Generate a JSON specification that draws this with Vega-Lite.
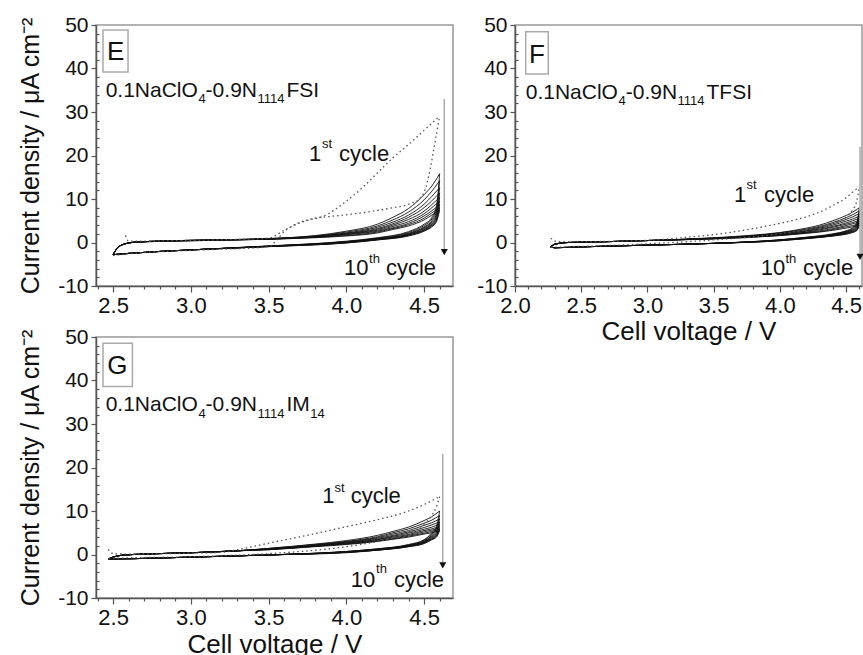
{
"$schema": "https://vega.github.io/schema/vega-lite/v6.json",
"padding": {"left": 17, "top": 13, "right": 0, "bottom": 0},
"config": {
  "font": "Liberation Sans",
  "view": {"stroke": "#999", "strokeWidth": 1.5},
  "axis": {"grid": false, "domainColor": "#555", "domainWidth": 1.5, "tickColor": "#555", "tickWidth": 1.2, "labelColor": "#111", "titleColor": "#111", "labelFont": "Liberation Sans", "titleFont": "Liberation Sans", "labelFontSize": 22, "titleFontSize": 26, "titleFontWeight": "normal", "labelOverlap": false, "labelFlush": false, "labelPadding": 3}
},
"datasets": {
"box": [
{"p":"E","x":2.435,"x2":2.596,"y":48.85,"y2":39.2},
{"p":"F","x":2.081,"x2":2.251,"y":48.46,"y2":38.74},
{"p":"G","x":2.435,"x2":2.624,"y":48.55,"y2":38.6}
],
"arr": [
{"p":"E","x":4.63,"y":33,"y2":-1.5,"yh":-2.2},
{"p":"F","x":4.605,"y":22,"y2":-2.5,"yh":-3.3},
{"p":"G","x":4.62,"y":23.1,"y2":-1.8,"yh":-2.5}
],
"ann": [
{"p":"E","k":"L","t":"E","x":2.461,"y":42.0},
{"p":"E","k":"M","t":"0.1NaClO","x":2.452,"y":33.5},
{"p":"E","k":"u","t":"4","x":3.049,"y":32.0},
{"p":"E","k":"M","t":"-0.9N","x":3.095,"y":33.5},
{"p":"E","k":"u","t":"1114","x":3.429,"y":32.0},
{"p":"E","k":"M","t":"FSI","x":3.615,"y":33.5},
{"p":"E","k":"C","t":"1","x":3.76,"y":18.7},
{"p":"E","k":"s","t":"st","x":3.843,"y":21.7},
{"p":"E","k":"C","t":"cycle","x":3.953,"y":18.7},
{"p":"E","k":"C","t":"10","x":3.985,"y":-7.5},
{"p":"E","k":"s","t":"th","x":4.146,"y":-4.7},
{"p":"E","k":"C","t":"cycle","x":4.255,"y":-7.5},
{"p":"F","k":"L","t":"F","x":2.106,"y":41.2},
{"p":"F","k":"M","t":"0.1NaClO","x":2.081,"y":33.1},
{"p":"F","k":"u","t":"4","x":2.781,"y":31.6},
{"p":"F","k":"M","t":"-0.9N","x":2.836,"y":33.1},
{"p":"F","k":"u","t":"1114","x":3.227,"y":31.6},
{"p":"F","k":"M","t":"TFSI","x":3.446,"y":33.1},
{"p":"F","k":"C","t":"1","x":3.654,"y":9.4},
{"p":"F","k":"s","t":"st","x":3.748,"y":12.2},
{"p":"F","k":"C","t":"cycle","x":3.88,"y":9.4},
{"p":"F","k":"C","t":"10","x":3.855,"y":-7.5},
{"p":"F","k":"s","t":"th","x":4.042,"y":-4.7},
{"p":"F","k":"C","t":"cycle","x":4.175,"y":-7.5},
{"p":"G","k":"L","t":"G","x":2.463,"y":41.6},
{"p":"G","k":"M","t":"0.1NaClO","x":2.452,"y":33.0},
{"p":"G","k":"u","t":"4","x":3.049,"y":31.4},
{"p":"G","k":"M","t":"-0.9N","x":3.095,"y":33.0},
{"p":"G","k":"u","t":"1114","x":3.429,"y":31.4},
{"p":"G","k":"M","t":"IM","x":3.615,"y":33.0},
{"p":"G","k":"u","t":"14","x":3.768,"y":31.4},
{"p":"G","k":"C","t":"1","x":3.845,"y":11.8},
{"p":"G","k":"s","t":"st","x":3.924,"y":14.4},
{"p":"G","k":"C","t":"cycle","x":4.028,"y":11.8},
{"p":"G","k":"C","t":"10","x":4.028,"y":-7.4},
{"p":"G","k":"s","t":"th","x":4.191,"y":-4.3},
{"p":"G","k":"C","t":"cycle","x":4.306,"y":-7.4}
],
"cv": [
{"p":"E","c":1,"b":"u","x":2.58,"y":1.6},{"p":"E","c":1,"b":"u","x":2.6,"y":0.3},{"p":"E","c":1,"b":"u","x":2.7,"y":0.3},{"p":"E","c":1,"b":"u","x":3.0,"y":0.5},{"p":"E","c":1,"b":"u","x":3.3,"y":0.7},{"p":"E","c":1,"b":"u","x":3.5,"y":1.0},{"p":"E","c":1,"b":"u","x":3.6,"y":2.8},{"p":"E","c":1,"b":"u","x":3.7,"y":4.5},{"p":"E","c":1,"b":"u","x":3.75,"y":5.1},{"p":"E","c":1,"b":"u","x":3.85,"y":6.0},{"p":"E","c":1,"b":"u","x":4.0,"y":9.5},{"p":"E","c":1,"b":"u","x":4.1,"y":12.5},{"p":"E","c":1,"b":"u","x":4.2,"y":16.0},{"p":"E","c":1,"b":"u","x":4.3,"y":19.5},{"p":"E","c":1,"b":"u","x":4.4,"y":22.5},{"p":"E","c":1,"b":"u","x":4.5,"y":25.8},{"p":"E","c":1,"b":"u","x":4.6,"y":29.0},
{"p":"E","c":1,"b":"d","x":2.5,"y":-3.0},{"p":"E","c":1,"b":"d","x":2.6,"y":-2.6},{"p":"E","c":1,"b":"d","x":3.0,"y":-1.8},{"p":"E","c":1,"b":"d","x":3.5,"y":-1.0},{"p":"E","c":1,"b":"d","x":3.55,"y":0.5},{"p":"E","c":1,"b":"d","x":3.6,"y":2.5},{"p":"E","c":1,"b":"d","x":3.7,"y":4.6},{"p":"E","c":1,"b":"d","x":3.8,"y":5.6},{"p":"E","c":1,"b":"d","x":3.9,"y":6.0},{"p":"E","c":1,"b":"d","x":4.03,"y":6.5},{"p":"E","c":1,"b":"d","x":4.17,"y":7.2},{"p":"E","c":1,"b":"d","x":4.3,"y":8.0},{"p":"E","c":1,"b":"d","x":4.4,"y":8.8},{"p":"E","c":1,"b":"d","x":4.47,"y":10.0},{"p":"E","c":1,"b":"d","x":4.51,"y":12.5},{"p":"E","c":1,"b":"d","x":4.54,"y":17.0},{"p":"E","c":1,"b":"d","x":4.57,"y":23.0},{"p":"E","c":1,"b":"d","x":4.6,"y":29.0},

{"p":"E","c":2,"b":"u","x":2.5,"y":-2.8},{"p":"E","c":2,"b":"u","x":2.52,"y":-1.6},{"p":"E","c":2,"b":"u","x":2.56,"y":-0.5},{"p":"E","c":2,"b":"u","x":2.65,"y":0.1},{"p":"E","c":2,"b":"u","x":3.0,"y":0.5},{"p":"E","c":2,"b":"u","x":3.5,"y":0.9},{"p":"E","c":2,"b":"u","x":3.8,"y":1.6},{"p":"E","c":2,"b":"u","x":4.0,"y":2.6},{"p":"E","c":2,"b":"u","x":4.2,"y":4.2},{"p":"E","c":2,"b":"u","x":4.3,"y":5.8},{"p":"E","c":2,"b":"u","x":4.4,"y":7.8},{"p":"E","c":2,"b":"u","x":4.5,"y":11.0},{"p":"E","c":2,"b":"u","x":4.55,"y":13.0},{"p":"E","c":2,"b":"u","x":4.6,"y":15.8},
{"p":"E","c":2,"b":"d","x":2.5,"y":-2.8},{"p":"E","c":2,"b":"d","x":2.6,"y":-2.5},{"p":"E","c":2,"b":"d","x":3.0,"y":-1.7},{"p":"E","c":2,"b":"d","x":3.5,"y":-0.8},{"p":"E","c":2,"b":"d","x":4.0,"y":0.3},{"p":"E","c":2,"b":"d","x":4.2,"y":1.1},{"p":"E","c":2,"b":"d","x":4.4,"y":2.5},{"p":"E","c":2,"b":"d","x":4.5,"y":4.2},{"p":"E","c":2,"b":"d","x":4.55,"y":5.8},{"p":"E","c":2,"b":"d","x":4.58,"y":8.5},{"p":"E","c":2,"b":"d","x":4.6,"y":15.8},

{"p":"E","c":3,"b":"u","x":2.5,"y":-2.8},{"p":"E","c":3,"b":"u","x":2.52,"y":-1.6},{"p":"E","c":3,"b":"u","x":2.56,"y":-0.5},{"p":"E","c":3,"b":"u","x":2.65,"y":0.1},{"p":"E","c":3,"b":"u","x":3.0,"y":0.5},{"p":"E","c":3,"b":"u","x":3.5,"y":0.9},{"p":"E","c":3,"b":"u","x":3.8,"y":1.5},{"p":"E","c":3,"b":"u","x":4.0,"y":2.4},{"p":"E","c":3,"b":"u","x":4.2,"y":3.8},{"p":"E","c":3,"b":"u","x":4.3,"y":5.2},{"p":"E","c":3,"b":"u","x":4.4,"y":7.0},{"p":"E","c":3,"b":"u","x":4.5,"y":9.8},{"p":"E","c":3,"b":"u","x":4.55,"y":11.8},{"p":"E","c":3,"b":"u","x":4.6,"y":14.2},
{"p":"E","c":3,"b":"d","x":2.5,"y":-2.8},{"p":"E","c":3,"b":"d","x":2.6,"y":-2.5},{"p":"E","c":3,"b":"d","x":3.0,"y":-1.7},{"p":"E","c":3,"b":"d","x":3.5,"y":-0.8},{"p":"E","c":3,"b":"d","x":4.0,"y":0.2},{"p":"E","c":3,"b":"d","x":4.2,"y":1.0},{"p":"E","c":3,"b":"d","x":4.4,"y":2.3},{"p":"E","c":3,"b":"d","x":4.5,"y":3.9},{"p":"E","c":3,"b":"d","x":4.55,"y":5.4},{"p":"E","c":3,"b":"d","x":4.58,"y":7.8},{"p":"E","c":3,"b":"d","x":4.6,"y":14.2},

{"p":"E","c":4,"b":"u","x":2.5,"y":-2.8},{"p":"E","c":4,"b":"u","x":2.52,"y":-1.6},{"p":"E","c":4,"b":"u","x":2.56,"y":-0.5},{"p":"E","c":4,"b":"u","x":2.65,"y":0.1},{"p":"E","c":4,"b":"u","x":3.0,"y":0.5},{"p":"E","c":4,"b":"u","x":3.5,"y":0.85},{"p":"E","c":4,"b":"u","x":3.8,"y":1.4},{"p":"E","c":4,"b":"u","x":4.0,"y":2.2},{"p":"E","c":4,"b":"u","x":4.2,"y":3.5},{"p":"E","c":4,"b":"u","x":4.3,"y":4.7},{"p":"E","c":4,"b":"u","x":4.4,"y":6.3},{"p":"E","c":4,"b":"u","x":4.5,"y":8.8},{"p":"E","c":4,"b":"u","x":4.55,"y":10.6},{"p":"E","c":4,"b":"u","x":4.6,"y":12.6},
{"p":"E","c":4,"b":"d","x":2.5,"y":-2.8},{"p":"E","c":4,"b":"d","x":2.6,"y":-2.5},{"p":"E","c":4,"b":"d","x":3.0,"y":-1.7},{"p":"E","c":4,"b":"d","x":3.5,"y":-0.85},{"p":"E","c":4,"b":"d","x":4.0,"y":0.2},{"p":"E","c":4,"b":"d","x":4.2,"y":0.9},{"p":"E","c":4,"b":"d","x":4.4,"y":2.1},{"p":"E","c":4,"b":"d","x":4.5,"y":3.6},{"p":"E","c":4,"b":"d","x":4.55,"y":5.0},{"p":"E","c":4,"b":"d","x":4.58,"y":7.2},{"p":"E","c":4,"b":"d","x":4.6,"y":12.6},

{"p":"E","c":5,"b":"u","x":2.5,"y":-2.8},{"p":"E","c":5,"b":"u","x":2.52,"y":-1.6},{"p":"E","c":5,"b":"u","x":2.56,"y":-0.5},{"p":"E","c":5,"b":"u","x":2.65,"y":0.1},{"p":"E","c":5,"b":"u","x":3.0,"y":0.5},{"p":"E","c":5,"b":"u","x":3.5,"y":0.85},{"p":"E","c":5,"b":"u","x":3.8,"y":1.4},{"p":"E","c":5,"b":"u","x":4.0,"y":2.1},{"p":"E","c":5,"b":"u","x":4.2,"y":3.2},{"p":"E","c":5,"b":"u","x":4.3,"y":4.3},{"p":"E","c":5,"b":"u","x":4.4,"y":5.8},{"p":"E","c":5,"b":"u","x":4.5,"y":8.0},{"p":"E","c":5,"b":"u","x":4.55,"y":9.6},{"p":"E","c":5,"b":"u","x":4.6,"y":11.4},
{"p":"E","c":5,"b":"d","x":2.5,"y":-2.8},{"p":"E","c":5,"b":"d","x":2.6,"y":-2.5},{"p":"E","c":5,"b":"d","x":3.0,"y":-1.7},{"p":"E","c":5,"b":"d","x":3.5,"y":-0.85},{"p":"E","c":5,"b":"d","x":4.0,"y":0.1},{"p":"E","c":5,"b":"d","x":4.2,"y":0.8},{"p":"E","c":5,"b":"d","x":4.4,"y":2.0},{"p":"E","c":5,"b":"d","x":4.5,"y":3.4},{"p":"E","c":5,"b":"d","x":4.55,"y":4.7},{"p":"E","c":5,"b":"d","x":4.58,"y":6.6},{"p":"E","c":5,"b":"d","x":4.6,"y":11.4},

{"p":"E","c":6,"b":"u","x":2.5,"y":-2.8},{"p":"E","c":6,"b":"u","x":2.52,"y":-1.6},{"p":"E","c":6,"b":"u","x":2.56,"y":-0.5},{"p":"E","c":6,"b":"u","x":2.65,"y":0.1},{"p":"E","c":6,"b":"u","x":3.0,"y":0.45},{"p":"E","c":6,"b":"u","x":3.5,"y":0.8},{"p":"E","c":6,"b":"u","x":3.8,"y":1.3},{"p":"E","c":6,"b":"u","x":4.0,"y":2.0},{"p":"E","c":6,"b":"u","x":4.2,"y":3.0},{"p":"E","c":6,"b":"u","x":4.3,"y":4.0},{"p":"E","c":6,"b":"u","x":4.4,"y":5.3},{"p":"E","c":6,"b":"u","x":4.5,"y":7.2},{"p":"E","c":6,"b":"u","x":4.55,"y":8.7},{"p":"E","c":6,"b":"u","x":4.6,"y":10.4},
{"p":"E","c":6,"b":"d","x":2.5,"y":-2.8},{"p":"E","c":6,"b":"d","x":2.6,"y":-2.5},{"p":"E","c":6,"b":"d","x":3.0,"y":-1.7},{"p":"E","c":6,"b":"d","x":3.5,"y":-0.9},{"p":"E","c":6,"b":"d","x":4.0,"y":0.1},{"p":"E","c":6,"b":"d","x":4.2,"y":0.8},{"p":"E","c":6,"b":"d","x":4.4,"y":1.9},{"p":"E","c":6,"b":"d","x":4.5,"y":3.2},{"p":"E","c":6,"b":"d","x":4.55,"y":4.4},{"p":"E","c":6,"b":"d","x":4.58,"y":6.2},{"p":"E","c":6,"b":"d","x":4.6,"y":10.4},

{"p":"E","c":7,"b":"u","x":2.5,"y":-2.8},{"p":"E","c":7,"b":"u","x":2.52,"y":-1.6},{"p":"E","c":7,"b":"u","x":2.56,"y":-0.5},{"p":"E","c":7,"b":"u","x":2.65,"y":0.1},{"p":"E","c":7,"b":"u","x":3.0,"y":0.45},{"p":"E","c":7,"b":"u","x":3.5,"y":0.8},{"p":"E","c":7,"b":"u","x":3.8,"y":1.3},{"p":"E","c":7,"b":"u","x":4.0,"y":1.9},{"p":"E","c":7,"b":"u","x":4.2,"y":2.8},{"p":"E","c":7,"b":"u","x":4.3,"y":3.7},{"p":"E","c":7,"b":"u","x":4.4,"y":4.8},{"p":"E","c":7,"b":"u","x":4.5,"y":6.6},{"p":"E","c":7,"b":"u","x":4.55,"y":8.0},{"p":"E","c":7,"b":"u","x":4.6,"y":9.5},
{"p":"E","c":7,"b":"d","x":2.5,"y":-2.8},{"p":"E","c":7,"b":"d","x":2.6,"y":-2.5},{"p":"E","c":7,"b":"d","x":3.0,"y":-1.7},{"p":"E","c":7,"b":"d","x":3.5,"y":-0.9},{"p":"E","c":7,"b":"d","x":4.0,"y":0.0},{"p":"E","c":7,"b":"d","x":4.2,"y":0.7},{"p":"E","c":7,"b":"d","x":4.4,"y":1.8},{"p":"E","c":7,"b":"d","x":4.5,"y":3.0},{"p":"E","c":7,"b":"d","x":4.55,"y":4.2},{"p":"E","c":7,"b":"d","x":4.58,"y":5.8},{"p":"E","c":7,"b":"d","x":4.6,"y":9.5},

{"p":"E","c":8,"b":"u","x":2.5,"y":-2.8},{"p":"E","c":8,"b":"u","x":2.52,"y":-1.6},{"p":"E","c":8,"b":"u","x":2.56,"y":-0.5},{"p":"E","c":8,"b":"u","x":2.65,"y":0.1},{"p":"E","c":8,"b":"u","x":3.0,"y":0.45},{"p":"E","c":8,"b":"u","x":3.5,"y":0.8},{"p":"E","c":8,"b":"u","x":3.8,"y":1.2},{"p":"E","c":8,"b":"u","x":4.0,"y":1.8},{"p":"E","c":8,"b":"u","x":4.2,"y":2.6},{"p":"E","c":8,"b":"u","x":4.3,"y":3.4},{"p":"E","c":8,"b":"u","x":4.4,"y":4.4},{"p":"E","c":8,"b":"u","x":4.5,"y":6.1},{"p":"E","c":8,"b":"u","x":4.55,"y":7.3},{"p":"E","c":8,"b":"u","x":4.6,"y":8.7},
{"p":"E","c":8,"b":"d","x":2.5,"y":-2.8},{"p":"E","c":8,"b":"d","x":2.6,"y":-2.5},{"p":"E","c":8,"b":"d","x":3.0,"y":-1.7},{"p":"E","c":8,"b":"d","x":3.5,"y":-0.9},{"p":"E","c":8,"b":"d","x":4.0,"y":0.0},{"p":"E","c":8,"b":"d","x":4.2,"y":0.7},{"p":"E","c":8,"b":"d","x":4.4,"y":1.7},{"p":"E","c":8,"b":"d","x":4.5,"y":2.9},{"p":"E","c":8,"b":"d","x":4.55,"y":4.0},{"p":"E","c":8,"b":"d","x":4.58,"y":5.4},{"p":"E","c":8,"b":"d","x":4.6,"y":8.7},

{"p":"E","c":9,"b":"u","x":2.5,"y":-2.8},{"p":"E","c":9,"b":"u","x":2.52,"y":-1.6},{"p":"E","c":9,"b":"u","x":2.56,"y":-0.5},{"p":"E","c":9,"b":"u","x":2.65,"y":0.1},{"p":"E","c":9,"b":"u","x":3.0,"y":0.4},{"p":"E","c":9,"b":"u","x":3.5,"y":0.75},{"p":"E","c":9,"b":"u","x":3.8,"y":1.2},{"p":"E","c":9,"b":"u","x":4.0,"y":1.6},{"p":"E","c":9,"b":"u","x":4.2,"y":2.4},{"p":"E","c":9,"b":"u","x":4.3,"y":3.2},{"p":"E","c":9,"b":"u","x":4.4,"y":4.1},{"p":"E","c":9,"b":"u","x":4.5,"y":5.6},{"p":"E","c":9,"b":"u","x":4.55,"y":6.8},{"p":"E","c":9,"b":"u","x":4.6,"y":8.0},
{"p":"E","c":9,"b":"d","x":2.5,"y":-2.8},{"p":"E","c":9,"b":"d","x":2.6,"y":-2.5},{"p":"E","c":9,"b":"d","x":3.0,"y":-1.7},{"p":"E","c":9,"b":"d","x":3.5,"y":-0.95},{"p":"E","c":9,"b":"d","x":4.0,"y":-0.1},{"p":"E","c":9,"b":"d","x":4.2,"y":0.6},{"p":"E","c":9,"b":"d","x":4.4,"y":1.6},{"p":"E","c":9,"b":"d","x":4.5,"y":2.7},{"p":"E","c":9,"b":"d","x":4.55,"y":3.8},{"p":"E","c":9,"b":"d","x":4.58,"y":5.1},{"p":"E","c":9,"b":"d","x":4.6,"y":8.0},

{"p":"E","c":10,"b":"u","x":2.5,"y":-2.8},{"p":"E","c":10,"b":"u","x":2.52,"y":-1.6},{"p":"E","c":10,"b":"u","x":2.56,"y":-0.5},{"p":"E","c":10,"b":"u","x":2.65,"y":0.1},{"p":"E","c":10,"b":"u","x":3.0,"y":0.4},{"p":"E","c":10,"b":"u","x":3.5,"y":0.75},{"p":"E","c":10,"b":"u","x":3.8,"y":1.1},{"p":"E","c":10,"b":"u","x":4.0,"y":1.5},{"p":"E","c":10,"b":"u","x":4.2,"y":2.2},{"p":"E","c":10,"b":"u","x":4.3,"y":3.0},{"p":"E","c":10,"b":"u","x":4.4,"y":3.8},{"p":"E","c":10,"b":"u","x":4.5,"y":5.2},{"p":"E","c":10,"b":"u","x":4.55,"y":6.3},{"p":"E","c":10,"b":"u","x":4.6,"y":7.4},
{"p":"E","c":10,"b":"d","x":2.5,"y":-2.8},{"p":"E","c":10,"b":"d","x":2.6,"y":-2.5},{"p":"E","c":10,"b":"d","x":3.0,"y":-1.7},{"p":"E","c":10,"b":"d","x":3.5,"y":-0.95},{"p":"E","c":10,"b":"d","x":4.0,"y":-0.1},{"p":"E","c":10,"b":"d","x":4.2,"y":0.6},{"p":"E","c":10,"b":"d","x":4.4,"y":1.5},{"p":"E","c":10,"b":"d","x":4.5,"y":2.6},{"p":"E","c":10,"b":"d","x":4.55,"y":3.6},{"p":"E","c":10,"b":"d","x":4.58,"y":4.8},{"p":"E","c":10,"b":"d","x":4.6,"y":7.4},

{"p":"F","c":1,"b":"u","x":2.27,"y":1.0},{"p":"F","c":1,"b":"u","x":2.32,"y":0.2},{"p":"F","c":1,"b":"u","x":2.5,"y":0.2},{"p":"F","c":1,"b":"u","x":3.0,"y":0.5},{"p":"F","c":1,"b":"u","x":3.3,"y":1.2},{"p":"F","c":1,"b":"u","x":3.5,"y":1.8},{"p":"F","c":1,"b":"u","x":3.8,"y":3.2},{"p":"F","c":1,"b":"u","x":4.0,"y":4.4},{"p":"F","c":1,"b":"u","x":4.1,"y":5.1},{"p":"F","c":1,"b":"u","x":4.2,"y":5.9},{"p":"F","c":1,"b":"u","x":4.3,"y":7.0},{"p":"F","c":1,"b":"u","x":4.4,"y":8.5},{"p":"F","c":1,"b":"u","x":4.5,"y":10.3},{"p":"F","c":1,"b":"u","x":4.55,"y":11.6},{"p":"F","c":1,"b":"u","x":4.6,"y":12.8},
{"p":"F","c":1,"b":"d","x":2.27,"y":-1.1},{"p":"F","c":1,"b":"d","x":2.5,"y":-0.9},{"p":"F","c":1,"b":"d","x":3.0,"y":-0.3},{"p":"F","c":1,"b":"d","x":3.5,"y":0.6},{"p":"F","c":1,"b":"d","x":4.0,"y":2.0},{"p":"F","c":1,"b":"d","x":4.2,"y":3.0},{"p":"F","c":1,"b":"d","x":4.4,"y":4.5},{"p":"F","c":1,"b":"d","x":4.5,"y":5.8},{"p":"F","c":1,"b":"d","x":4.55,"y":7.5},{"p":"F","c":1,"b":"d","x":4.58,"y":9.5},{"p":"F","c":1,"b":"d","x":4.6,"y":12.8},

{"p":"F","c":2,"b":"u","x":2.27,"y":-1.0},{"p":"F","c":2,"b":"u","x":2.3,"y":-0.4},{"p":"F","c":2,"b":"u","x":2.4,"y":0.0},{"p":"F","c":2,"b":"u","x":2.7,"y":0.2},{"p":"F","c":2,"b":"u","x":3.0,"y":0.45},{"p":"F","c":2,"b":"u","x":3.5,"y":1.1},{"p":"F","c":2,"b":"u","x":3.8,"y":1.7},{"p":"F","c":2,"b":"u","x":4.0,"y":2.3},{"p":"F","c":2,"b":"u","x":4.2,"y":3.3},{"p":"F","c":2,"b":"u","x":4.3,"y":4.0},{"p":"F","c":2,"b":"u","x":4.4,"y":5.0},{"p":"F","c":2,"b":"u","x":4.5,"y":6.2},{"p":"F","c":2,"b":"u","x":4.55,"y":7.0},{"p":"F","c":2,"b":"u","x":4.6,"y":8.0},
{"p":"F","c":2,"b":"d","x":2.27,"y":-1.0},{"p":"F","c":2,"b":"d","x":2.3,"y":-1.2},{"p":"F","c":2,"b":"d","x":2.5,"y":-1.0},{"p":"F","c":2,"b":"d","x":3.0,"y":-0.6},{"p":"F","c":2,"b":"d","x":3.5,"y":-0.2},{"p":"F","c":2,"b":"d","x":4.0,"y":0.6},{"p":"F","c":2,"b":"d","x":4.2,"y":1.2},{"p":"F","c":2,"b":"d","x":4.4,"y":2.0},{"p":"F","c":2,"b":"d","x":4.5,"y":2.7},{"p":"F","c":2,"b":"d","x":4.55,"y":3.4},{"p":"F","c":2,"b":"d","x":4.58,"y":4.5},{"p":"F","c":2,"b":"d","x":4.6,"y":8.0},

{"p":"F","c":3,"b":"u","x":2.27,"y":-1.0},{"p":"F","c":3,"b":"u","x":2.3,"y":-0.4},{"p":"F","c":3,"b":"u","x":2.4,"y":0.0},{"p":"F","c":3,"b":"u","x":2.7,"y":0.2},{"p":"F","c":3,"b":"u","x":3.0,"y":0.45},{"p":"F","c":3,"b":"u","x":3.5,"y":1.0},{"p":"F","c":3,"b":"u","x":3.8,"y":1.6},{"p":"F","c":3,"b":"u","x":4.0,"y":2.2},{"p":"F","c":3,"b":"u","x":4.2,"y":3.1},{"p":"F","c":3,"b":"u","x":4.3,"y":3.7},{"p":"F","c":3,"b":"u","x":4.4,"y":4.6},{"p":"F","c":3,"b":"u","x":4.5,"y":5.7},{"p":"F","c":3,"b":"u","x":4.55,"y":6.4},{"p":"F","c":3,"b":"u","x":4.6,"y":7.3},
{"p":"F","c":3,"b":"d","x":2.27,"y":-1.0},{"p":"F","c":3,"b":"d","x":2.3,"y":-1.2},{"p":"F","c":3,"b":"d","x":2.5,"y":-1.0},{"p":"F","c":3,"b":"d","x":3.0,"y":-0.6},{"p":"F","c":3,"b":"d","x":3.5,"y":-0.2},{"p":"F","c":3,"b":"d","x":4.0,"y":0.6},{"p":"F","c":3,"b":"d","x":4.2,"y":1.2},{"p":"F","c":3,"b":"d","x":4.4,"y":1.9},{"p":"F","c":3,"b":"d","x":4.5,"y":2.6},{"p":"F","c":3,"b":"d","x":4.55,"y":3.2},{"p":"F","c":3,"b":"d","x":4.58,"y":4.2},{"p":"F","c":3,"b":"d","x":4.6,"y":7.3},

{"p":"F","c":4,"b":"u","x":2.27,"y":-1.0},{"p":"F","c":4,"b":"u","x":2.3,"y":-0.4},{"p":"F","c":4,"b":"u","x":2.4,"y":0.0},{"p":"F","c":4,"b":"u","x":2.7,"y":0.2},{"p":"F","c":4,"b":"u","x":3.0,"y":0.45},{"p":"F","c":4,"b":"u","x":3.5,"y":1.0},{"p":"F","c":4,"b":"u","x":3.8,"y":1.5},{"p":"F","c":4,"b":"u","x":4.0,"y":2.1},{"p":"F","c":4,"b":"u","x":4.2,"y":2.9},{"p":"F","c":4,"b":"u","x":4.3,"y":3.5},{"p":"F","c":4,"b":"u","x":4.4,"y":4.3},{"p":"F","c":4,"b":"u","x":4.5,"y":5.3},{"p":"F","c":4,"b":"u","x":4.55,"y":5.9},{"p":"F","c":4,"b":"u","x":4.6,"y":6.7},
{"p":"F","c":4,"b":"d","x":2.27,"y":-1.0},{"p":"F","c":4,"b":"d","x":2.3,"y":-1.2},{"p":"F","c":4,"b":"d","x":2.5,"y":-1.0},{"p":"F","c":4,"b":"d","x":3.0,"y":-0.6},{"p":"F","c":4,"b":"d","x":3.5,"y":-0.2},{"p":"F","c":4,"b":"d","x":4.0,"y":0.6},{"p":"F","c":4,"b":"d","x":4.2,"y":1.1},{"p":"F","c":4,"b":"d","x":4.4,"y":1.8},{"p":"F","c":4,"b":"d","x":4.5,"y":2.5},{"p":"F","c":4,"b":"d","x":4.55,"y":3.0},{"p":"F","c":4,"b":"d","x":4.58,"y":3.9},{"p":"F","c":4,"b":"d","x":4.6,"y":6.7},

{"p":"F","c":5,"b":"u","x":2.27,"y":-1.0},{"p":"F","c":5,"b":"u","x":2.3,"y":-0.4},{"p":"F","c":5,"b":"u","x":2.4,"y":0.0},{"p":"F","c":5,"b":"u","x":2.7,"y":0.2},{"p":"F","c":5,"b":"u","x":3.0,"y":0.45},{"p":"F","c":5,"b":"u","x":3.5,"y":1.0},{"p":"F","c":5,"b":"u","x":3.8,"y":1.5},{"p":"F","c":5,"b":"u","x":4.0,"y":2.0},{"p":"F","c":5,"b":"u","x":4.2,"y":2.7},{"p":"F","c":5,"b":"u","x":4.3,"y":3.3},{"p":"F","c":5,"b":"u","x":4.4,"y":4.0},{"p":"F","c":5,"b":"u","x":4.5,"y":4.9},{"p":"F","c":5,"b":"u","x":4.55,"y":5.4},{"p":"F","c":5,"b":"u","x":4.6,"y":6.1},
{"p":"F","c":5,"b":"d","x":2.27,"y":-1.0},{"p":"F","c":5,"b":"d","x":2.3,"y":-1.2},{"p":"F","c":5,"b":"d","x":2.5,"y":-1.0},{"p":"F","c":5,"b":"d","x":3.0,"y":-0.6},{"p":"F","c":5,"b":"d","x":3.5,"y":-0.2},{"p":"F","c":5,"b":"d","x":4.0,"y":0.5},{"p":"F","c":5,"b":"d","x":4.2,"y":1.1},{"p":"F","c":5,"b":"d","x":4.4,"y":1.8},{"p":"F","c":5,"b":"d","x":4.5,"y":2.4},{"p":"F","c":5,"b":"d","x":4.55,"y":2.9},{"p":"F","c":5,"b":"d","x":4.58,"y":3.6},{"p":"F","c":5,"b":"d","x":4.6,"y":6.1},

{"p":"F","c":6,"b":"u","x":2.27,"y":-1.0},{"p":"F","c":6,"b":"u","x":2.3,"y":-0.4},{"p":"F","c":6,"b":"u","x":2.4,"y":0.0},{"p":"F","c":6,"b":"u","x":2.7,"y":0.2},{"p":"F","c":6,"b":"u","x":3.0,"y":0.45},{"p":"F","c":6,"b":"u","x":3.5,"y":0.9},{"p":"F","c":6,"b":"u","x":3.8,"y":1.4},{"p":"F","c":6,"b":"u","x":4.0,"y":1.9},{"p":"F","c":6,"b":"u","x":4.2,"y":2.6},{"p":"F","c":6,"b":"u","x":4.3,"y":3.1},{"p":"F","c":6,"b":"u","x":4.4,"y":3.7},{"p":"F","c":6,"b":"u","x":4.5,"y":4.5},{"p":"F","c":6,"b":"u","x":4.55,"y":5.0},{"p":"F","c":6,"b":"u","x":4.6,"y":5.6},
{"p":"F","c":6,"b":"d","x":2.27,"y":-1.0},{"p":"F","c":6,"b":"d","x":2.3,"y":-1.2},{"p":"F","c":6,"b":"d","x":2.5,"y":-1.0},{"p":"F","c":6,"b":"d","x":3.0,"y":-0.6},{"p":"F","c":6,"b":"d","x":3.5,"y":-0.2},{"p":"F","c":6,"b":"d","x":4.0,"y":0.5},{"p":"F","c":6,"b":"d","x":4.2,"y":1.0},{"p":"F","c":6,"b":"d","x":4.4,"y":1.7},{"p":"F","c":6,"b":"d","x":4.5,"y":2.3},{"p":"F","c":6,"b":"d","x":4.55,"y":2.7},{"p":"F","c":6,"b":"d","x":4.58,"y":3.4},{"p":"F","c":6,"b":"d","x":4.6,"y":5.6},

{"p":"F","c":7,"b":"u","x":2.27,"y":-1.0},{"p":"F","c":7,"b":"u","x":2.3,"y":-0.4},{"p":"F","c":7,"b":"u","x":2.4,"y":0.0},{"p":"F","c":7,"b":"u","x":2.7,"y":0.2},{"p":"F","c":7,"b":"u","x":3.0,"y":0.45},{"p":"F","c":7,"b":"u","x":3.5,"y":0.9},{"p":"F","c":7,"b":"u","x":3.8,"y":1.4},{"p":"F","c":7,"b":"u","x":4.0,"y":1.8},{"p":"F","c":7,"b":"u","x":4.2,"y":2.4},{"p":"F","c":7,"b":"u","x":4.3,"y":2.9},{"p":"F","c":7,"b":"u","x":4.4,"y":3.5},{"p":"F","c":7,"b":"u","x":4.5,"y":4.2},{"p":"F","c":7,"b":"u","x":4.55,"y":4.6},{"p":"F","c":7,"b":"u","x":4.6,"y":5.1},
{"p":"F","c":7,"b":"d","x":2.27,"y":-1.0},{"p":"F","c":7,"b":"d","x":2.3,"y":-1.2},{"p":"F","c":7,"b":"d","x":2.5,"y":-1.0},{"p":"F","c":7,"b":"d","x":3.0,"y":-0.6},{"p":"F","c":7,"b":"d","x":3.5,"y":-0.2},{"p":"F","c":7,"b":"d","x":4.0,"y":0.5},{"p":"F","c":7,"b":"d","x":4.2,"y":1.0},{"p":"F","c":7,"b":"d","x":4.4,"y":1.6},{"p":"F","c":7,"b":"d","x":4.5,"y":2.2},{"p":"F","c":7,"b":"d","x":4.55,"y":2.6},{"p":"F","c":7,"b":"d","x":4.58,"y":3.2},{"p":"F","c":7,"b":"d","x":4.6,"y":5.1},

{"p":"F","c":8,"b":"u","x":2.27,"y":-1.0},{"p":"F","c":8,"b":"u","x":2.3,"y":-0.4},{"p":"F","c":8,"b":"u","x":2.4,"y":0.0},{"p":"F","c":8,"b":"u","x":2.7,"y":0.2},{"p":"F","c":8,"b":"u","x":3.0,"y":0.45},{"p":"F","c":8,"b":"u","x":3.5,"y":0.9},{"p":"F","c":8,"b":"u","x":3.8,"y":1.3},{"p":"F","c":8,"b":"u","x":4.0,"y":1.7},{"p":"F","c":8,"b":"u","x":4.2,"y":2.3},{"p":"F","c":8,"b":"u","x":4.3,"y":2.7},{"p":"F","c":8,"b":"u","x":4.4,"y":3.2},{"p":"F","c":8,"b":"u","x":4.5,"y":3.9},{"p":"F","c":8,"b":"u","x":4.55,"y":4.3},{"p":"F","c":8,"b":"u","x":4.6,"y":4.7},
{"p":"F","c":8,"b":"d","x":2.27,"y":-1.0},{"p":"F","c":8,"b":"d","x":2.3,"y":-1.2},{"p":"F","c":8,"b":"d","x":2.5,"y":-1.0},{"p":"F","c":8,"b":"d","x":3.0,"y":-0.6},{"p":"F","c":8,"b":"d","x":3.5,"y":-0.2},{"p":"F","c":8,"b":"d","x":4.0,"y":0.5},{"p":"F","c":8,"b":"d","x":4.2,"y":1.0},{"p":"F","c":8,"b":"d","x":4.4,"y":1.6},{"p":"F","c":8,"b":"d","x":4.5,"y":2.1},{"p":"F","c":8,"b":"d","x":4.55,"y":2.5},{"p":"F","c":8,"b":"d","x":4.58,"y":3.0},{"p":"F","c":8,"b":"d","x":4.6,"y":4.7},

{"p":"F","c":9,"b":"u","x":2.27,"y":-1.0},{"p":"F","c":9,"b":"u","x":2.3,"y":-0.4},{"p":"F","c":9,"b":"u","x":2.4,"y":0.0},{"p":"F","c":9,"b":"u","x":2.7,"y":0.2},{"p":"F","c":9,"b":"u","x":3.0,"y":0.45},{"p":"F","c":9,"b":"u","x":3.5,"y":0.9},{"p":"F","c":9,"b":"u","x":3.8,"y":1.3},{"p":"F","c":9,"b":"u","x":4.0,"y":1.6},{"p":"F","c":9,"b":"u","x":4.2,"y":2.2},{"p":"F","c":9,"b":"u","x":4.3,"y":2.5},{"p":"F","c":9,"b":"u","x":4.4,"y":3.0},{"p":"F","c":9,"b":"u","x":4.5,"y":3.6},{"p":"F","c":9,"b":"u","x":4.55,"y":3.9},{"p":"F","c":9,"b":"u","x":4.6,"y":4.3},
{"p":"F","c":9,"b":"d","x":2.27,"y":-1.0},{"p":"F","c":9,"b":"d","x":2.3,"y":-1.2},{"p":"F","c":9,"b":"d","x":2.5,"y":-1.0},{"p":"F","c":9,"b":"d","x":3.0,"y":-0.6},{"p":"F","c":9,"b":"d","x":3.5,"y":-0.2},{"p":"F","c":9,"b":"d","x":4.0,"y":0.4},{"p":"F","c":9,"b":"d","x":4.2,"y":0.9},{"p":"F","c":9,"b":"d","x":4.4,"y":1.5},{"p":"F","c":9,"b":"d","x":4.5,"y":2.0},{"p":"F","c":9,"b":"d","x":4.55,"y":2.4},{"p":"F","c":9,"b":"d","x":4.58,"y":2.8},{"p":"F","c":9,"b":"d","x":4.6,"y":4.3},

{"p":"F","c":10,"b":"u","x":2.27,"y":-1.0},{"p":"F","c":10,"b":"u","x":2.3,"y":-0.4},{"p":"F","c":10,"b":"u","x":2.4,"y":0.0},{"p":"F","c":10,"b":"u","x":2.7,"y":0.2},{"p":"F","c":10,"b":"u","x":3.0,"y":0.45},{"p":"F","c":10,"b":"u","x":3.5,"y":0.8},{"p":"F","c":10,"b":"u","x":3.8,"y":1.2},{"p":"F","c":10,"b":"u","x":4.0,"y":1.6},{"p":"F","c":10,"b":"u","x":4.2,"y":2.1},{"p":"F","c":10,"b":"u","x":4.3,"y":2.4},{"p":"F","c":10,"b":"u","x":4.4,"y":2.8},{"p":"F","c":10,"b":"u","x":4.5,"y":3.3},{"p":"F","c":10,"b":"u","x":4.55,"y":3.6},{"p":"F","c":10,"b":"u","x":4.6,"y":4.0},
{"p":"F","c":10,"b":"d","x":2.27,"y":-1.0},{"p":"F","c":10,"b":"d","x":2.3,"y":-1.2},{"p":"F","c":10,"b":"d","x":2.5,"y":-1.0},{"p":"F","c":10,"b":"d","x":3.0,"y":-0.6},{"p":"F","c":10,"b":"d","x":3.5,"y":-0.2},{"p":"F","c":10,"b":"d","x":4.0,"y":0.4},{"p":"F","c":10,"b":"d","x":4.2,"y":0.9},{"p":"F","c":10,"b":"d","x":4.4,"y":1.5},{"p":"F","c":10,"b":"d","x":4.5,"y":1.9},{"p":"F","c":10,"b":"d","x":4.55,"y":2.3},{"p":"F","c":10,"b":"d","x":4.58,"y":2.7},{"p":"F","c":10,"b":"d","x":4.6,"y":4.0},

{"p":"G","c":1,"b":"u","x":2.47,"y":1.2},{"p":"G","c":1,"b":"u","x":2.5,"y":0.2},{"p":"G","c":1,"b":"u","x":2.6,"y":0.1},{"p":"G","c":1,"b":"u","x":3.0,"y":0.3},{"p":"G","c":1,"b":"u","x":3.2,"y":0.5},{"p":"G","c":1,"b":"u","x":3.3,"y":1.1},{"p":"G","c":1,"b":"u","x":3.5,"y":2.6},{"p":"G","c":1,"b":"u","x":3.8,"y":4.8},{"p":"G","c":1,"b":"u","x":4.0,"y":6.4},{"p":"G","c":1,"b":"u","x":4.2,"y":8.0},{"p":"G","c":1,"b":"u","x":4.4,"y":10.0},{"p":"G","c":1,"b":"u","x":4.5,"y":11.5},{"p":"G","c":1,"b":"u","x":4.6,"y":13.3},
{"p":"G","c":1,"b":"d","x":2.47,"y":-1.0},{"p":"G","c":1,"b":"d","x":2.5,"y":-0.9},{"p":"G","c":1,"b":"d","x":3.0,"y":-0.5},{"p":"G","c":1,"b":"d","x":3.5,"y":0.2},{"p":"G","c":1,"b":"d","x":4.0,"y":1.8},{"p":"G","c":1,"b":"d","x":4.2,"y":3.0},{"p":"G","c":1,"b":"d","x":4.4,"y":5.0},{"p":"G","c":1,"b":"d","x":4.5,"y":7.0},{"p":"G","c":1,"b":"d","x":4.55,"y":9.0},{"p":"G","c":1,"b":"d","x":4.58,"y":11.0},{"p":"G","c":1,"b":"d","x":4.6,"y":13.3},

{"p":"G","c":2,"b":"u","x":2.47,"y":-1.0},{"p":"G","c":2,"b":"u","x":2.5,"y":-0.6},{"p":"G","c":2,"b":"u","x":2.55,"y":-0.2},{"p":"G","c":2,"b":"u","x":2.7,"y":0.1},{"p":"G","c":2,"b":"u","x":3.0,"y":0.4},{"p":"G","c":2,"b":"u","x":3.3,"y":0.85},{"p":"G","c":2,"b":"u","x":3.5,"y":1.4},{"p":"G","c":2,"b":"u","x":3.8,"y":2.4},{"p":"G","c":2,"b":"u","x":4.0,"y":3.2},{"p":"G","c":2,"b":"u","x":4.2,"y":4.4},{"p":"G","c":2,"b":"u","x":4.3,"y":5.3},{"p":"G","c":2,"b":"u","x":4.4,"y":6.3},{"p":"G","c":2,"b":"u","x":4.5,"y":7.8},{"p":"G","c":2,"b":"u","x":4.55,"y":8.7},{"p":"G","c":2,"b":"u","x":4.6,"y":10.0},
{"p":"G","c":2,"b":"d","x":2.47,"y":-1.0},{"p":"G","c":2,"b":"d","x":2.5,"y":-1.0},{"p":"G","c":2,"b":"d","x":3.0,"y":-0.6},{"p":"G","c":2,"b":"d","x":3.5,"y":-0.1},{"p":"G","c":2,"b":"d","x":4.0,"y":0.7},{"p":"G","c":2,"b":"d","x":4.2,"y":1.3},{"p":"G","c":2,"b":"d","x":4.4,"y":2.3},{"p":"G","c":2,"b":"d","x":4.5,"y":3.4},{"p":"G","c":2,"b":"d","x":4.55,"y":5.0},{"p":"G","c":2,"b":"d","x":4.58,"y":6.5},{"p":"G","c":2,"b":"d","x":4.6,"y":10.0},

{"p":"G","c":3,"b":"u","x":2.47,"y":-1.0},{"p":"G","c":3,"b":"u","x":2.5,"y":-0.6},{"p":"G","c":3,"b":"u","x":2.55,"y":-0.2},{"p":"G","c":3,"b":"u","x":2.7,"y":0.1},{"p":"G","c":3,"b":"u","x":3.0,"y":0.4},{"p":"G","c":3,"b":"u","x":3.3,"y":0.85},{"p":"G","c":3,"b":"u","x":3.5,"y":1.4},{"p":"G","c":3,"b":"u","x":3.8,"y":2.3},{"p":"G","c":3,"b":"u","x":4.0,"y":3.0},{"p":"G","c":3,"b":"u","x":4.2,"y":4.1},{"p":"G","c":3,"b":"u","x":4.3,"y":5.0},{"p":"G","c":3,"b":"u","x":4.4,"y":5.9},{"p":"G","c":3,"b":"u","x":4.5,"y":7.2},{"p":"G","c":3,"b":"u","x":4.55,"y":7.9},{"p":"G","c":3,"b":"u","x":4.6,"y":9.0},
{"p":"G","c":3,"b":"d","x":2.47,"y":-1.0},{"p":"G","c":3,"b":"d","x":2.5,"y":-1.0},{"p":"G","c":3,"b":"d","x":3.0,"y":-0.6},{"p":"G","c":3,"b":"d","x":3.5,"y":-0.1},{"p":"G","c":3,"b":"d","x":4.0,"y":0.7},{"p":"G","c":3,"b":"d","x":4.2,"y":1.3},{"p":"G","c":3,"b":"d","x":4.4,"y":2.2},{"p":"G","c":3,"b":"d","x":4.5,"y":3.3},{"p":"G","c":3,"b":"d","x":4.55,"y":4.7},{"p":"G","c":3,"b":"d","x":4.58,"y":6.0},{"p":"G","c":3,"b":"d","x":4.6,"y":9.0},

{"p":"G","c":4,"b":"u","x":2.47,"y":-1.0},{"p":"G","c":4,"b":"u","x":2.5,"y":-0.6},{"p":"G","c":4,"b":"u","x":2.55,"y":-0.2},{"p":"G","c":4,"b":"u","x":2.7,"y":0.1},{"p":"G","c":4,"b":"u","x":3.0,"y":0.4},{"p":"G","c":4,"b":"u","x":3.3,"y":0.85},{"p":"G","c":4,"b":"u","x":3.5,"y":1.3},{"p":"G","c":4,"b":"u","x":3.8,"y":2.2},{"p":"G","c":4,"b":"u","x":4.0,"y":2.9},{"p":"G","c":4,"b":"u","x":4.2,"y":3.9},{"p":"G","c":4,"b":"u","x":4.3,"y":4.7},{"p":"G","c":4,"b":"u","x":4.4,"y":5.5},{"p":"G","c":4,"b":"u","x":4.5,"y":6.7},{"p":"G","c":4,"b":"u","x":4.55,"y":7.3},{"p":"G","c":4,"b":"u","x":4.6,"y":8.2},
{"p":"G","c":4,"b":"d","x":2.47,"y":-1.0},{"p":"G","c":4,"b":"d","x":2.5,"y":-1.0},{"p":"G","c":4,"b":"d","x":3.0,"y":-0.6},{"p":"G","c":4,"b":"d","x":3.5,"y":-0.1},{"p":"G","c":4,"b":"d","x":4.0,"y":0.6},{"p":"G","c":4,"b":"d","x":4.2,"y":1.2},{"p":"G","c":4,"b":"d","x":4.4,"y":2.1},{"p":"G","c":4,"b":"d","x":4.5,"y":3.1},{"p":"G","c":4,"b":"d","x":4.55,"y":4.4},{"p":"G","c":4,"b":"d","x":4.58,"y":5.6},{"p":"G","c":4,"b":"d","x":4.6,"y":8.2},

{"p":"G","c":5,"b":"u","x":2.47,"y":-1.0},{"p":"G","c":5,"b":"u","x":2.5,"y":-0.6},{"p":"G","c":5,"b":"u","x":2.55,"y":-0.2},{"p":"G","c":5,"b":"u","x":2.7,"y":0.1},{"p":"G","c":5,"b":"u","x":3.0,"y":0.4},{"p":"G","c":5,"b":"u","x":3.3,"y":0.85},{"p":"G","c":5,"b":"u","x":3.5,"y":1.3},{"p":"G","c":5,"b":"u","x":3.8,"y":2.1},{"p":"G","c":5,"b":"u","x":4.0,"y":2.8},{"p":"G","c":5,"b":"u","x":4.2,"y":3.7},{"p":"G","c":5,"b":"u","x":4.3,"y":4.4},{"p":"G","c":5,"b":"u","x":4.4,"y":5.2},{"p":"G","c":5,"b":"u","x":4.5,"y":6.2},{"p":"G","c":5,"b":"u","x":4.55,"y":6.8},{"p":"G","c":5,"b":"u","x":4.6,"y":7.5},
{"p":"G","c":5,"b":"d","x":2.47,"y":-1.0},{"p":"G","c":5,"b":"d","x":2.5,"y":-1.0},{"p":"G","c":5,"b":"d","x":3.0,"y":-0.6},{"p":"G","c":5,"b":"d","x":3.5,"y":-0.1},{"p":"G","c":5,"b":"d","x":4.0,"y":0.6},{"p":"G","c":5,"b":"d","x":4.2,"y":1.2},{"p":"G","c":5,"b":"d","x":4.4,"y":2.1},{"p":"G","c":5,"b":"d","x":4.5,"y":3.0},{"p":"G","c":5,"b":"d","x":4.55,"y":4.2},{"p":"G","c":5,"b":"d","x":4.58,"y":5.2},{"p":"G","c":5,"b":"d","x":4.6,"y":7.5},

{"p":"G","c":6,"b":"u","x":2.47,"y":-1.0},{"p":"G","c":6,"b":"u","x":2.5,"y":-0.6},{"p":"G","c":6,"b":"u","x":2.55,"y":-0.2},{"p":"G","c":6,"b":"u","x":2.7,"y":0.1},{"p":"G","c":6,"b":"u","x":3.0,"y":0.4},{"p":"G","c":6,"b":"u","x":3.3,"y":0.85},{"p":"G","c":6,"b":"u","x":3.5,"y":1.2},{"p":"G","c":6,"b":"u","x":3.8,"y":2.0},{"p":"G","c":6,"b":"u","x":4.0,"y":2.7},{"p":"G","c":6,"b":"u","x":4.2,"y":3.5},{"p":"G","c":6,"b":"u","x":4.3,"y":4.2},{"p":"G","c":6,"b":"u","x":4.4,"y":4.9},{"p":"G","c":6,"b":"u","x":4.5,"y":5.8},{"p":"G","c":6,"b":"u","x":4.55,"y":6.3},{"p":"G","c":6,"b":"u","x":4.6,"y":7.0},
{"p":"G","c":6,"b":"d","x":2.47,"y":-1.0},{"p":"G","c":6,"b":"d","x":2.5,"y":-1.0},{"p":"G","c":6,"b":"d","x":3.0,"y":-0.6},{"p":"G","c":6,"b":"d","x":3.5,"y":-0.1},{"p":"G","c":6,"b":"d","x":4.0,"y":0.6},{"p":"G","c":6,"b":"d","x":4.2,"y":1.1},{"p":"G","c":6,"b":"d","x":4.4,"y":2.0},{"p":"G","c":6,"b":"d","x":4.5,"y":2.9},{"p":"G","c":6,"b":"d","x":4.55,"y":4.0},{"p":"G","c":6,"b":"d","x":4.58,"y":4.9},{"p":"G","c":6,"b":"d","x":4.6,"y":7.0},

{"p":"G","c":7,"b":"u","x":2.47,"y":-1.0},{"p":"G","c":7,"b":"u","x":2.5,"y":-0.6},{"p":"G","c":7,"b":"u","x":2.55,"y":-0.2},{"p":"G","c":7,"b":"u","x":2.7,"y":0.1},{"p":"G","c":7,"b":"u","x":3.0,"y":0.4},{"p":"G","c":7,"b":"u","x":3.3,"y":0.85},{"p":"G","c":7,"b":"u","x":3.5,"y":1.2},{"p":"G","c":7,"b":"u","x":3.8,"y":2.0},{"p":"G","c":7,"b":"u","x":4.0,"y":2.6},{"p":"G","c":7,"b":"u","x":4.2,"y":3.4},{"p":"G","c":7,"b":"u","x":4.3,"y":4.0},{"p":"G","c":7,"b":"u","x":4.4,"y":4.6},{"p":"G","c":7,"b":"u","x":4.5,"y":5.5},{"p":"G","c":7,"b":"u","x":4.55,"y":5.9},{"p":"G","c":7,"b":"u","x":4.6,"y":6.5},
{"p":"G","c":7,"b":"d","x":2.47,"y":-1.0},{"p":"G","c":7,"b":"d","x":2.5,"y":-1.0},{"p":"G","c":7,"b":"d","x":3.0,"y":-0.6},{"p":"G","c":7,"b":"d","x":3.5,"y":-0.1},{"p":"G","c":7,"b":"d","x":4.0,"y":0.5},{"p":"G","c":7,"b":"d","x":4.2,"y":1.1},{"p":"G","c":7,"b":"d","x":4.4,"y":1.9},{"p":"G","c":7,"b":"d","x":4.5,"y":2.8},{"p":"G","c":7,"b":"d","x":4.55,"y":3.8},{"p":"G","c":7,"b":"d","x":4.58,"y":4.6},{"p":"G","c":7,"b":"d","x":4.6,"y":6.5},

{"p":"G","c":8,"b":"u","x":2.47,"y":-1.0},{"p":"G","c":8,"b":"u","x":2.5,"y":-0.6},{"p":"G","c":8,"b":"u","x":2.55,"y":-0.2},{"p":"G","c":8,"b":"u","x":2.7,"y":0.1},{"p":"G","c":8,"b":"u","x":3.0,"y":0.4},{"p":"G","c":8,"b":"u","x":3.3,"y":0.85},{"p":"G","c":8,"b":"u","x":3.5,"y":1.2},{"p":"G","c":8,"b":"u","x":3.8,"y":1.9},{"p":"G","c":8,"b":"u","x":4.0,"y":2.5},{"p":"G","c":8,"b":"u","x":4.2,"y":3.2},{"p":"G","c":8,"b":"u","x":4.3,"y":3.8},{"p":"G","c":8,"b":"u","x":4.4,"y":4.4},{"p":"G","c":8,"b":"u","x":4.5,"y":5.2},{"p":"G","c":8,"b":"u","x":4.55,"y":5.6},{"p":"G","c":8,"b":"u","x":4.6,"y":6.1},
{"p":"G","c":8,"b":"d","x":2.47,"y":-1.0},{"p":"G","c":8,"b":"d","x":2.5,"y":-1.0},{"p":"G","c":8,"b":"d","x":3.0,"y":-0.6},{"p":"G","c":8,"b":"d","x":3.5,"y":-0.1},{"p":"G","c":8,"b":"d","x":4.0,"y":0.5},{"p":"G","c":8,"b":"d","x":4.2,"y":1.0},{"p":"G","c":8,"b":"d","x":4.4,"y":1.9},{"p":"G","c":8,"b":"d","x":4.5,"y":2.7},{"p":"G","c":8,"b":"d","x":4.55,"y":3.6},{"p":"G","c":8,"b":"d","x":4.58,"y":4.4},{"p":"G","c":8,"b":"d","x":4.6,"y":6.1},

{"p":"G","c":9,"b":"u","x":2.47,"y":-1.0},{"p":"G","c":9,"b":"u","x":2.5,"y":-0.6},{"p":"G","c":9,"b":"u","x":2.55,"y":-0.2},{"p":"G","c":9,"b":"u","x":2.7,"y":0.1},{"p":"G","c":9,"b":"u","x":3.0,"y":0.4},{"p":"G","c":9,"b":"u","x":3.3,"y":0.85},{"p":"G","c":9,"b":"u","x":3.5,"y":1.1},{"p":"G","c":9,"b":"u","x":3.8,"y":1.9},{"p":"G","c":9,"b":"u","x":4.0,"y":2.4},{"p":"G","c":9,"b":"u","x":4.2,"y":3.1},{"p":"G","c":9,"b":"u","x":4.3,"y":3.6},{"p":"G","c":9,"b":"u","x":4.4,"y":4.2},{"p":"G","c":9,"b":"u","x":4.5,"y":4.9},{"p":"G","c":9,"b":"u","x":4.55,"y":5.3},{"p":"G","c":9,"b":"u","x":4.6,"y":5.8},
{"p":"G","c":9,"b":"d","x":2.47,"y":-1.0},{"p":"G","c":9,"b":"d","x":2.5,"y":-1.0},{"p":"G","c":9,"b":"d","x":3.0,"y":-0.6},{"p":"G","c":9,"b":"d","x":3.5,"y":-0.1},{"p":"G","c":9,"b":"d","x":4.0,"y":0.5},{"p":"G","c":9,"b":"d","x":4.2,"y":1.0},{"p":"G","c":9,"b":"d","x":4.4,"y":1.8},{"p":"G","c":9,"b":"d","x":4.5,"y":2.6},{"p":"G","c":9,"b":"d","x":4.55,"y":3.5},{"p":"G","c":9,"b":"d","x":4.58,"y":4.2},{"p":"G","c":9,"b":"d","x":4.6,"y":5.8},

{"p":"G","c":10,"b":"u","x":2.47,"y":-1.0},{"p":"G","c":10,"b":"u","x":2.5,"y":-0.6},{"p":"G","c":10,"b":"u","x":2.55,"y":-0.2},{"p":"G","c":10,"b":"u","x":2.7,"y":0.1},{"p":"G","c":10,"b":"u","x":3.0,"y":0.4},{"p":"G","c":10,"b":"u","x":3.3,"y":0.85},{"p":"G","c":10,"b":"u","x":3.5,"y":1.1},{"p":"G","c":10,"b":"u","x":3.8,"y":1.8},{"p":"G","c":10,"b":"u","x":4.0,"y":2.3},{"p":"G","c":10,"b":"u","x":4.2,"y":3.0},{"p":"G","c":10,"b":"u","x":4.3,"y":3.5},{"p":"G","c":10,"b":"u","x":4.4,"y":4.0},{"p":"G","c":10,"b":"u","x":4.5,"y":4.7},{"p":"G","c":10,"b":"u","x":4.55,"y":5.0},{"p":"G","c":10,"b":"u","x":4.6,"y":5.5},
{"p":"G","c":10,"b":"d","x":2.47,"y":-1.0},{"p":"G","c":10,"b":"d","x":2.5,"y":-1.0},{"p":"G","c":10,"b":"d","x":3.0,"y":-0.6},{"p":"G","c":10,"b":"d","x":3.5,"y":-0.1},{"p":"G","c":10,"b":"d","x":4.0,"y":0.4},{"p":"G","c":10,"b":"d","x":4.2,"y":1.0},{"p":"G","c":10,"b":"d","x":4.4,"y":1.8},{"p":"G","c":10,"b":"d","x":4.5,"y":2.5},{"p":"G","c":10,"b":"d","x":4.55,"y":3.4},{"p":"G","c":10,"b":"d","x":4.58,"y":4.0},{"p":"G","c":10,"b":"d","x":4.6,"y":5.5}
]
},
"columns": 2,
"spacing": {"row": 51, "column": 62},
"bounds": "flush",
"concat": [
{
"width": 357, "height": 261,
"encoding": {
 "x": {"field": "x", "type": "quantitative", "scale": {"domain": [2.39, 4.686], "nice": false, "zero": false},
   "axis": {"title": null, "values": [2.4,2.5,2.6,2.7,2.8,2.9,3.0,3.1,3.2,3.3,3.4,3.5,3.6,3.7,3.8,3.9,4.0,4.1,4.2,4.3,4.4,4.5,4.6], "labelExpr": "abs(datum.value*2-round(datum.value*2))<0.01 ? format(datum.value,'.1f') : ''", "tickSize": {"condition": {"test": "abs(datum.value*2-round(datum.value*2))<0.01", "value": 6}, "value": 3}}},
 "y": {"field": "y", "type": "quantitative", "scale": {"domain": [-10, 50], "nice": false, "zero": false},
   "axis": {"title": "Current density / μA cm⁻²", "titlePadding": 14, "titleFontSize": 25, "labelFontSize": 21, "values": [-10,-8,-6,-4,-2,0,2,4,6,8,10,12,14,16,18,20,22,24,26,28,30,32,34,36,38,40,42,44,46,48,50], "labelExpr": "datum.value % 10 == 0 ? (datum.value < 0 ? '-' + abs(datum.value) : '' + datum.value) : ''", "tickSize": {"condition": {"test": "datum.value % 10 == 0", "value": 5}, "value": -3}}}
},
"layer": [
 {"data": {"name": "cv"}, "transform": [{"filter": "datum.p == 'E' && datum.c > 1"}], "mark": {"type": "line", "interpolate": "monotone", "color": "#111", "strokeWidth": 0.9}, "encoding": {"detail": [{"field": "c", "type": "nominal"}, {"field": "b", "type": "nominal"}]}},
 {"data": {"name": "cv"}, "transform": [{"filter": "datum.p == 'E' && datum.c == 1"}], "mark": {"type": "line", "interpolate": "monotone", "color": "#555", "strokeWidth": 1.3, "strokeDash": [1.5, 3]}, "encoding": {"detail": {"field": "b", "type": "nominal"}}},
 {"data": {"name": "box"}, "transform": [{"filter": "datum.p == 'E'"}], "mark": {"type": "rect", "fillOpacity": 0, "stroke": "#aaa", "strokeWidth": 1.5}, "encoding": {"x2": {"field": "x2"}, "y2": {"field": "y2"}}},
 {"data": {"name": "arr"}, "transform": [{"filter": "datum.p == 'E'"}], "mark": {"type": "rule", "color": "#aaa", "strokeWidth": 1.5}, "encoding": {"y2": {"field": "y2"}}},
 {"data": {"name": "arr"}, "transform": [{"filter": "datum.p == 'E'"}], "mark": {"type": "point", "shape": "triangle-down", "filled": true, "color": "#111", "size": 50, "opacity": 1}, "encoding": {"y": {"field": "yh", "type": "quantitative"}}},
 {"data": {"name": "ann"}, "transform": [{"filter": "datum.p == 'E'"}], "mark": {"type": "text", "align": "left", "baseline": "alphabetic", "color": "#111", "font": "Liberation Sans"}, "encoding": {"text": {"field": "t", "type": "nominal"}, "size": {"field": "k", "type": "nominal", "scale": {"type": "ordinal", "domain": ["L","C","s","M","u"], "range": [26,22,13,21,13]}, "legend": null}}}
]
},
{
"width": 347, "height": 261,
"encoding": {
 "x": {"field": "x", "type": "quantitative", "scale": {"domain": [2.0, 4.62], "nice": false, "zero": false},
   "axis": {"title": "Cell voltage / V", "titlePadding": 2, "values": [2.0,2.1,2.2,2.3,2.4,2.5,2.6,2.7,2.8,2.9,3.0,3.1,3.2,3.3,3.4,3.5,3.6,3.7,3.8,3.9,4.0,4.1,4.2,4.3,4.4,4.5,4.6], "labelExpr": "abs(datum.value*2-round(datum.value*2))<0.01 ? format(datum.value,'.1f') : ''", "tickSize": {"condition": {"test": "abs(datum.value*2-round(datum.value*2))<0.01", "value": 6}, "value": 3}}},
 "y": {"field": "y", "type": "quantitative", "scale": {"domain": [-10, 50], "nice": false, "zero": false},
   "axis": {"title": null, "labelFontSize": 21, "values": [-10,-8,-6,-4,-2,0,2,4,6,8,10,12,14,16,18,20,22,24,26,28,30,32,34,36,38,40,42,44,46,48,50], "labelExpr": "datum.value % 10 == 0 ? (datum.value < 0 ? '-' + abs(datum.value) : '' + datum.value) : ''", "tickSize": {"condition": {"test": "datum.value % 10 == 0", "value": 5}, "value": -3}}}
},
"layer": [
 {"data": {"name": "cv"}, "transform": [{"filter": "datum.p == 'F' && datum.c > 1"}], "mark": {"type": "line", "interpolate": "monotone", "color": "#111", "strokeWidth": 0.9}, "encoding": {"detail": [{"field": "c", "type": "nominal"}, {"field": "b", "type": "nominal"}]}},
 {"data": {"name": "cv"}, "transform": [{"filter": "datum.p == 'F' && datum.c == 1"}], "mark": {"type": "line", "interpolate": "monotone", "color": "#555", "strokeWidth": 1.3, "strokeDash": [1.5, 3]}, "encoding": {"detail": {"field": "b", "type": "nominal"}}},
 {"data": {"name": "box"}, "transform": [{"filter": "datum.p == 'F'"}], "mark": {"type": "rect", "fillOpacity": 0, "stroke": "#aaa", "strokeWidth": 1.5}, "encoding": {"x2": {"field": "x2"}, "y2": {"field": "y2"}}},
 {"data": {"name": "arr"}, "transform": [{"filter": "datum.p == 'F'"}], "mark": {"type": "rule", "color": "#aaa", "strokeWidth": 1.5}, "encoding": {"y2": {"field": "y2"}}},
 {"data": {"name": "arr"}, "transform": [{"filter": "datum.p == 'F'"}], "mark": {"type": "point", "shape": "triangle-down", "filled": true, "color": "#111", "size": 50, "opacity": 1}, "encoding": {"y": {"field": "yh", "type": "quantitative"}}},
 {"data": {"name": "ann"}, "transform": [{"filter": "datum.p == 'F'"}], "mark": {"type": "text", "align": "left", "baseline": "alphabetic", "color": "#111", "font": "Liberation Sans"}, "encoding": {"text": {"field": "t", "type": "nominal"}, "size": {"field": "k", "type": "nominal", "scale": {"type": "ordinal", "domain": ["L","C","s","M","u"], "range": [26,22,13,21,13]}, "legend": null}}}
]
},
{
"width": 357, "height": 261,
"encoding": {
 "x": {"field": "x", "type": "quantitative", "scale": {"domain": [2.39, 4.686], "nice": false, "zero": false},
   "axis": {"title": "Cell voltage / V", "titlePadding": 3, "values": [2.4,2.5,2.6,2.7,2.8,2.9,3.0,3.1,3.2,3.3,3.4,3.5,3.6,3.7,3.8,3.9,4.0,4.1,4.2,4.3,4.4,4.5,4.6], "labelExpr": "abs(datum.value*2-round(datum.value*2))<0.01 ? format(datum.value,'.1f') : ''", "tickSize": {"condition": {"test": "abs(datum.value*2-round(datum.value*2))<0.01", "value": 6}, "value": 3}}},
 "y": {"field": "y", "type": "quantitative", "scale": {"domain": [-10, 50], "nice": false, "zero": false},
   "axis": {"title": "Current density / μA cm⁻²", "titlePadding": 14, "titleFontSize": 25, "labelFontSize": 21, "values": [-10,-8,-6,-4,-2,0,2,4,6,8,10,12,14,16,18,20,22,24,26,28,30,32,34,36,38,40,42,44,46,48,50], "labelExpr": "datum.value % 10 == 0 ? (datum.value < 0 ? '-' + abs(datum.value) : '' + datum.value) : ''", "tickSize": {"condition": {"test": "datum.value % 10 == 0", "value": 5}, "value": -3}}}
},
"layer": [
 {"data": {"name": "cv"}, "transform": [{"filter": "datum.p == 'G' && datum.c > 1"}], "mark": {"type": "line", "interpolate": "monotone", "color": "#111", "strokeWidth": 0.9}, "encoding": {"detail": [{"field": "c", "type": "nominal"}, {"field": "b", "type": "nominal"}]}},
 {"data": {"name": "cv"}, "transform": [{"filter": "datum.p == 'G' && datum.c == 1"}], "mark": {"type": "line", "interpolate": "monotone", "color": "#555", "strokeWidth": 1.3, "strokeDash": [1.5, 3]}, "encoding": {"detail": {"field": "b", "type": "nominal"}}},
 {"data": {"name": "box"}, "transform": [{"filter": "datum.p == 'G'"}], "mark": {"type": "rect", "fillOpacity": 0, "stroke": "#aaa", "strokeWidth": 1.5}, "encoding": {"x2": {"field": "x2"}, "y2": {"field": "y2"}}},
 {"data": {"name": "arr"}, "transform": [{"filter": "datum.p == 'G'"}], "mark": {"type": "rule", "color": "#aaa", "strokeWidth": 1.5}, "encoding": {"y2": {"field": "y2"}}},
 {"data": {"name": "arr"}, "transform": [{"filter": "datum.p == 'G'"}], "mark": {"type": "point", "shape": "triangle-down", "filled": true, "color": "#111", "size": 50, "opacity": 1}, "encoding": {"y": {"field": "yh", "type": "quantitative"}}},
 {"data": {"name": "ann"}, "transform": [{"filter": "datum.p == 'G'"}], "mark": {"type": "text", "align": "left", "baseline": "alphabetic", "color": "#111", "font": "Liberation Sans"}, "encoding": {"text": {"field": "t", "type": "nominal"}, "size": {"field": "k", "type": "nominal", "scale": {"type": "ordinal", "domain": ["L","C","s","M","u"], "range": [26,22,13,21,13]}, "legend": null}}}
]
}
]
}
